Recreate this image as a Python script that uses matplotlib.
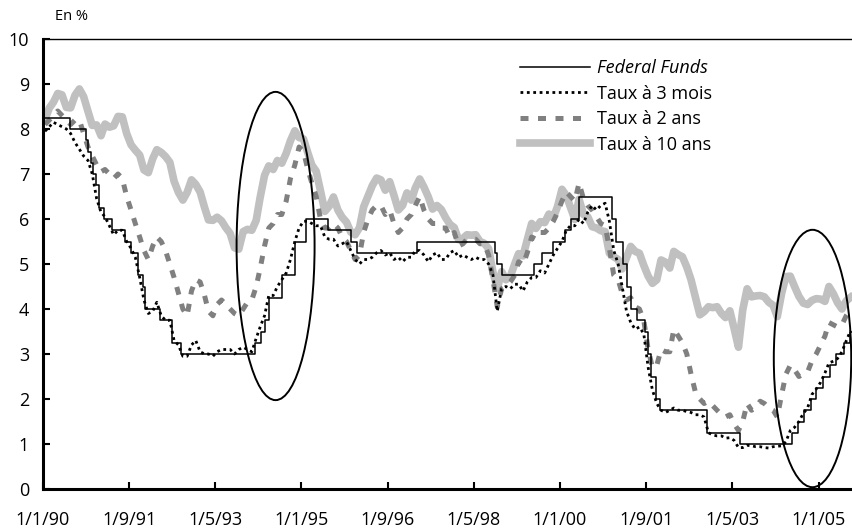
import matplotlib
matplotlib.use("Agg")
import matplotlib.pyplot as plt
import matplotlib.dates as mdates
from matplotlib.patches import Ellipse
import pandas as pd

plt.rcParams['font.family'] = ['Open Sans', 'DejaVu Sans']

# monthly values, Jan 1990 .. Aug 2005
taux_10ans = [
    8.21, 8.47, 8.59, 8.79, 8.76, 8.48, 8.47, 8.75, 8.89, 8.72, 8.39, 8.08,
    8.09, 7.85, 8.11, 8.04, 8.07, 8.28, 8.27, 7.90, 7.65, 7.53, 7.42, 7.09,
    7.03, 7.34, 7.54, 7.48, 7.39, 7.26, 6.84, 6.59, 6.42, 6.59, 6.87, 6.77,
    6.60, 6.26, 5.98, 5.97, 6.04, 5.96, 5.81, 5.68, 5.36, 5.33, 5.72, 5.77,
    5.75, 5.97, 6.48, 6.97, 7.18, 7.10, 7.30, 7.24, 7.46, 7.74, 7.96, 7.81,
    7.78, 7.47, 7.20, 7.06, 6.63, 6.17, 6.28, 6.49, 6.20, 6.04, 5.93, 5.71,
    5.65, 5.81, 6.27, 6.51, 6.74, 6.91, 6.87, 6.64, 6.83, 6.53, 6.20, 6.30,
    6.58, 6.42, 6.69, 6.89, 6.71, 6.49, 6.22, 6.30, 6.21, 6.03, 5.88, 5.81,
    5.54, 5.57, 5.65, 5.64, 5.65, 5.50, 5.46, 5.34, 4.81, 4.45, 4.83, 4.65,
    4.72, 5.00, 5.23, 5.18, 5.54, 5.90, 5.79, 5.94, 5.92, 6.11, 6.03, 6.28,
    6.66, 6.52, 6.26, 5.99, 6.44, 6.10, 6.05, 5.83, 5.80, 5.74, 5.72, 5.24,
    5.16, 5.10, 4.89, 5.14, 5.39, 5.28, 5.24, 4.97, 4.73, 4.57, 4.65, 5.09,
    5.04, 4.91, 5.28, 5.21, 5.16, 4.93, 4.65, 4.26, 3.87, 3.94, 4.05, 4.03,
    4.05, 3.90, 3.81, 3.96, 3.57, 3.15, 3.98, 4.45, 4.27, 4.29, 4.30, 4.27,
    4.15, 4.08, 3.83, 4.35, 4.72, 4.73, 4.50, 4.28, 4.13, 4.10, 4.19, 4.23,
    4.22, 4.17, 4.50, 4.34, 4.14, 4.00, 4.18, 4.26,
]

taux_2ans = [
    8.10, 8.20, 8.30, 8.40, 8.30, 8.20, 8.10, 8.20, 8.20, 7.90, 7.60, 7.40,
    7.20, 7.05, 7.10, 7.00, 6.90, 7.00, 6.90, 6.50, 6.20, 5.90, 5.60, 5.30,
    5.10, 5.40, 5.60, 5.50, 5.30, 5.00, 4.70, 4.35, 4.00, 3.85, 4.40, 4.65,
    4.60, 4.30, 3.95, 3.85, 4.10, 4.20, 4.10, 4.00, 3.90, 3.85, 4.00, 4.15,
    4.20, 4.50, 4.90, 5.40, 5.80, 5.90, 6.10, 6.10, 6.40, 6.90, 7.20, 7.60,
    7.50, 7.10, 6.80, 6.50, 6.00, 5.80, 5.80, 5.90, 5.80, 5.60, 5.50, 5.30,
    5.10, 5.20, 5.70, 6.00, 6.20, 6.30, 6.30, 6.10, 6.20, 5.90, 5.70, 5.80,
    6.00, 6.10, 6.30, 6.50, 6.20, 6.00, 5.90, 5.90, 5.80, 5.80, 5.60, 5.70,
    5.40, 5.45, 5.55, 5.55, 5.55, 5.45, 5.45, 5.20, 4.65, 4.05, 4.45, 4.50,
    4.60, 4.75, 5.05, 4.98, 5.25, 5.60, 5.55, 5.70, 5.70, 5.80, 5.95, 6.15,
    6.40, 6.60, 6.50, 6.40, 6.80, 6.45, 6.30, 6.20, 6.05, 5.90, 5.85, 5.35,
    4.75, 4.65, 4.35, 4.20, 4.25, 4.05, 4.00, 3.75, 3.10, 2.70, 2.75, 3.10,
    3.05, 3.05, 3.55, 3.40, 3.25, 3.00, 2.55, 2.15, 2.00, 1.90, 1.95, 1.85,
    1.75, 1.65, 1.60, 1.65, 1.45, 1.30, 1.50, 1.90, 1.75, 1.80, 1.95, 1.90,
    1.80, 1.75, 1.60, 2.10, 2.55, 2.75, 2.65, 2.50, 2.55, 2.60, 2.85, 3.00,
    3.20, 3.40, 3.70, 3.65, 3.60, 3.65, 3.85, 4.00,
]

taux_3mois = [
    7.95, 8.05, 8.15, 8.10, 8.05, 8.00, 7.90, 7.70, 7.55, 7.40, 7.30, 7.00,
    6.45, 6.15, 6.05, 5.85, 5.65, 5.75, 5.75, 5.50, 5.35, 5.15, 4.70, 4.20,
    3.90, 3.95, 4.15, 3.85, 3.75, 3.75, 3.30, 3.20, 2.95, 2.95, 3.20, 3.30,
    3.05, 3.00, 3.00, 2.95, 3.05, 3.10, 3.10, 3.10, 3.00, 3.10, 3.15, 3.10,
    3.05, 3.35, 3.60, 3.85, 4.30, 4.30, 4.50, 4.65, 4.80, 5.10, 5.50, 5.80,
    5.95, 5.95, 5.90, 5.85, 5.85, 5.60, 5.55, 5.55, 5.40, 5.45, 5.50, 5.30,
    5.10, 5.00, 5.10, 5.10, 5.15, 5.25, 5.30, 5.20, 5.25, 5.10, 5.15, 5.05,
    5.15, 5.15, 5.30, 5.30, 5.20, 5.05, 5.20, 5.25, 5.10, 5.10, 5.25, 5.30,
    5.15, 5.20, 5.15, 5.10, 5.15, 5.10, 5.10, 5.00, 4.75, 3.95, 4.45, 4.50,
    4.45, 4.55, 4.55, 4.40, 4.60, 4.70, 4.70, 4.85, 4.80, 5.00, 5.20, 5.35,
    5.50, 5.75, 5.85, 5.85, 6.00, 5.90, 6.15, 6.30, 6.20, 6.30, 6.35, 5.95,
    5.30, 5.00, 4.50, 3.95, 3.70, 3.55, 3.60, 3.45, 2.70, 2.20, 1.90, 1.75,
    1.70, 1.75, 1.80, 1.75, 1.75, 1.72, 1.70, 1.65, 1.65, 1.60, 1.25, 1.20,
    1.18, 1.18, 1.13, 1.14, 1.08, 0.92, 0.92, 0.97, 0.96, 0.94, 0.94, 0.92,
    0.91, 0.94, 0.95, 0.96, 1.05, 1.30, 1.37, 1.50, 1.68, 1.80, 2.10, 2.22,
    2.37, 2.58, 2.80, 2.84, 2.90, 3.05, 3.29, 3.52,
]

# Federal Funds target: change dates and levels
ff_dates = [
    "1990-01-01", "1990-07-13", "1990-10-29", "1990-11-13", "1990-12-07", "1990-12-18",
    "1991-01-09", "1991-02-01", "1991-03-08", "1991-04-30", "1991-08-06", "1991-09-13",
    "1991-10-31", "1991-11-06", "1991-12-06", "1991-12-20", "1992-04-09", "1992-07-02",
    "1992-09-04", "1994-02-04", "1994-03-22", "1994-04-18", "1994-05-17", "1994-08-16",
    "1994-11-15", "1995-02-01", "1995-07-06", "1995-12-19", "1996-01-31", "1997-03-25",
    "1998-09-29", "1998-10-15", "1998-11-17", "1999-06-30", "1999-08-24", "1999-11-16",
    "2000-02-02", "2000-03-21", "2000-05-16", "2001-01-03", "2001-01-31", "2001-03-20",
    "2001-04-18", "2001-05-15", "2001-06-27", "2001-08-21", "2001-09-17", "2001-10-02",
    "2001-11-06", "2001-12-11", "2002-11-06", "2003-06-25", "2004-06-30", "2004-08-10",
    "2004-09-21", "2004-11-10", "2004-12-14", "2005-02-02", "2005-03-22", "2005-05-03",
    "2005-06-30", "2005-08-09", "2005-08-31",
]
ff_rates = [
    8.25, 8.00, 7.75, 7.50, 7.25, 7.00,
    6.75, 6.25, 6.00, 5.75, 5.50, 5.25,
    5.00, 4.75, 4.50, 4.00, 3.75, 3.25,
    3.00, 3.25, 3.50, 3.75, 4.25, 4.75,
    5.50, 6.00, 5.75, 5.50, 5.25, 5.50,
    5.25, 5.00, 4.75, 5.00, 5.25, 5.50,
    5.75, 6.00, 6.50, 6.00, 5.50, 5.00,
    4.50, 4.00, 3.75, 3.50, 3.00, 2.50,
    2.00, 1.75, 1.25, 1.00, 1.25, 1.50,
    1.75, 2.00, 2.25, 2.50, 2.75, 3.00,
    3.25, 3.50, 3.50,
]

tick_dates = ["1990-01-01", "1991-09-01", "1993-05-01", "1995-01-01", "1996-09-01",
              "1998-05-01", "2000-01-01", "2001-09-01", "2003-05-01", "2005-01-01"]
tick_labels = ["1/1/90", "1/9/91", "1/5/93", "1/1/95", "1/9/96",
               "1/5/98", "1/1/00", "1/9/01", "1/5/03", "1/1/05"]

months = pd.date_range("1990-01-01", periods=len(taux_10ans), freq="MS") + pd.Timedelta(days=14)

fig = plt.figure(figsize=(8.53, 5.32), dpi=100)
ax = fig.add_axes([43 / 853, 1 - 489 / 532, 1 - 43 / 853, 450 / 532])

l10, = ax.plot(months, taux_10ans, color="#c0c0c0", lw=5.5, zorder=1)
l2, = ax.plot(months, taux_2ans, color="#808080", lw=3.6, dashes=(1.6, 1.9), zorder=2)
lff, = ax.step(pd.to_datetime(ff_dates), ff_rates, where="post", color="black", lw=1.1, zorder=3)
l3, = ax.plot(months, taux_3mois, color="black", lw=2.0, dashes=(1, 1.3), zorder=4)

# ellipses around the 1994 and 2004-05 tightening phases
for centre, width_days, yc, h in [("1994-07-02", 551, 5.40, 6.85), ("2004-11-19", 547, 2.90, 5.72)]:
    ax.add_patch(Ellipse((mdates.date2num(pd.Timestamp(centre)), yc), width_days, h,
                         fill=False, ec="black", lw=1.4, zorder=6))

ax.set_xlim(pd.Timestamp("1990-01-01"), pd.Timestamp("2005-09-01"))
ax.set_ylim(0, 10)
ax.set_yticks(range(0, 11))
ax.set_xticks(pd.to_datetime(tick_dates))
ax.set_xticklabels(tick_labels)

for s in ["left", "bottom"]:
    ax.spines[s].set_linewidth(2.2)
ax.spines["top"].set_linewidth(1.0)
ax.spines["right"].set_visible(False)
ax.tick_params(axis="both", direction="in", length=5, width=1.5, labelsize=13, colors="black")
ax.tick_params(axis="x", pad=16)
ax.tick_params(axis="y", pad=10)

fig.text(55 / 853, 1 - 16 / 532, "En %", fontsize=10.5, va="center", ha="left")

leg = ax.legend([lff, l3, l2, l10], ["Federal Funds", "Taux à 3 mois", "Taux à 2 ans", "Taux à 10 ans"],
                loc="upper left", bbox_to_anchor=(520 / 853, 1 - 59 / 532), bbox_transform=fig.transFigure,
                frameon=False, fontsize=13, handlelength=3.9, handletextpad=0.38,
                labelspacing=0.42, borderpad=0, borderaxespad=0)
leg.get_texts()[0].set_fontstyle("italic")

fig.savefig("out.png", dpi=100)
